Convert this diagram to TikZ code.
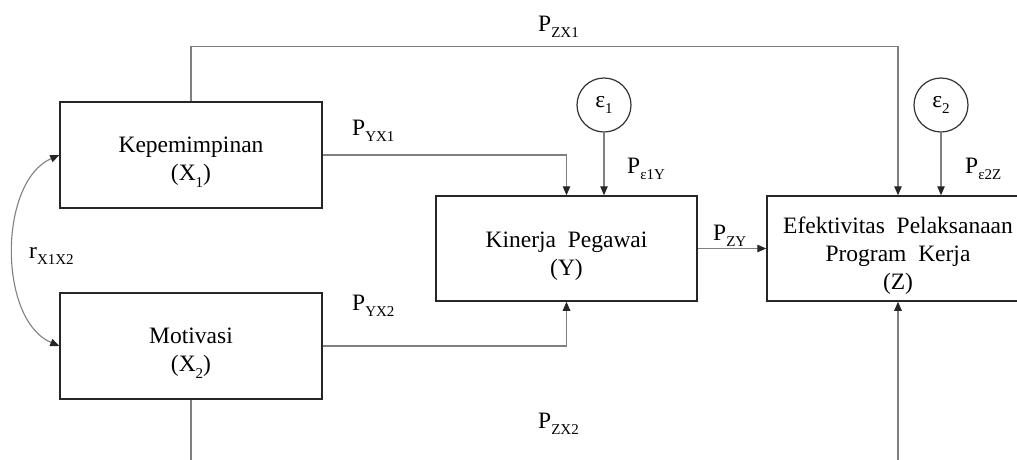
\documentclass[tikz,border=0pt]{standalone}
\usepackage{fontspec}
\setmainfont{Liberation Serif}
\usetikzlibrary{arrows.meta}
\newcommand{\lsub}[1]{\raisebox{-0.28em}{\fontsize{15}{15}\selectfont #1}}
\newcommand{\tstrut}{\rule{0pt}{30pt}}
\begin{document}
\begin{tikzpicture}[x=1pt,y=-1pt,
 box/.style={draw=black!85, line width=1.5pt, minimum width=262pt, minimum height=106pt, inner sep=0pt, align=center, font=\fontsize{23.5}{28}\selectfont},
 circ/.style={draw=black!80, line width=1.2pt, circle, minimum size=54pt, inner sep=0pt, font=\fontsize{23.5}{28}\selectfont},
 conn/.style={draw=black!50, line width=1.1pt},
 arr/.style={conn, -{Triangle[length=9pt,width=7.5pt,color=black!85]}},
 lbl/.style={anchor=base west, inner sep=0pt, font=\fontsize{23.5}{28}\selectfont}]
\useasboundingbox (0,0) rectangle (1017,459);
\clip (0,0) rectangle (1017,459);

\node[box] (x1) at (191,155) {\tstrut Kepemimpinan\\(X\lsub{1})};
\node[box] (x2) at (191,346) {\tstrut Motivasi\\(X\lsub{2})};
\node[box, minimum width=261pt, minimum height=105pt] (y) at (566.5,248.5) {\tstrut Kinerja\ \ Pegawai\\(Y)};
\node[box, minimum height=105pt] (z) at (898,248.5) {\tstrut Efektivitas\ \ Pelaksanaan\\Program\ \ Kerja\\(Z)};
\node[circ] (e1) at (604,105) {ε\lsub{1}};
\node[circ] (e2) at (941,105) {ε\lsub{2}};

\coordinate (b1) at (191,470);
\coordinate (b2) at (898,470);

\draw[arr] (x1.north) -- ++(0,-55) -| (z.north);
\draw[arr] (x1.east) -| (y.north);
\draw[arr] (x2.east) -| (y.south);
\draw[arr] (e1.south) -- (e1.south |- y.north);
\draw[arr] (e2.south) -- (e2.south |- z.north);
\draw[arr] (y.east) -- (z.west);
\draw[conn] (x2.south) -- (b1);
\draw[arr] (b2) -- (z.south);
\draw[conn, {Triangle[length=9pt,width=7.5pt,color=black!85]}-{Triangle[length=9pt,width=7.5pt,color=black!85]}] (x2.west) .. controls (-2,320) and (-2,182) .. (x1.west);

\node[lbl] (lzx1) at (538,31) {P\lsub{ZX1}};
\node[lbl] (lyx1) at (352,135) {P\lsub{YX1}};
\node[lbl] (le1y) at (627,173) {P\lsub{ε1Y}};
\node[lbl] (le2z) at (965,173) {P\lsub{ε2Z}};
\node[lbl] (lzy) at (713,240) {P\lsub{ZY}};
\node[lbl] (lr) at (29,258) {r\lsub{X1X2}};
\node[lbl] (lyx2) at (352,310) {P\lsub{YX2}};
\node[lbl] (lzx2) at (538,428) {P\lsub{ZX2}};
\end{tikzpicture}
\end{document}
